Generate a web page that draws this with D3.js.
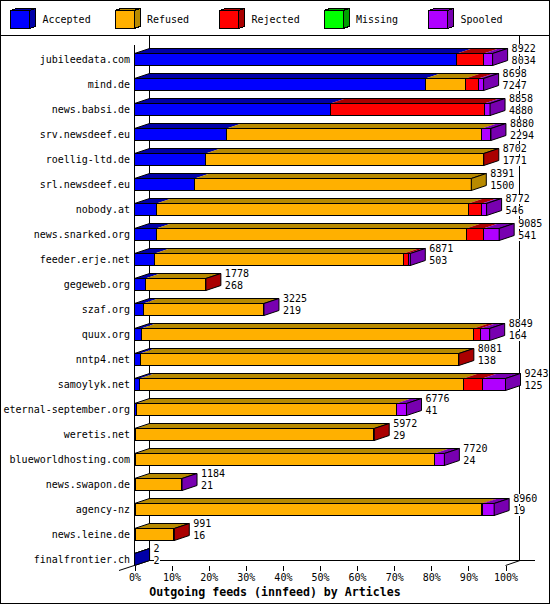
<!DOCTYPE html>
<html>
<head>
<meta charset="utf-8">
<style>
  body { margin: 0; background: #fff; }
  text { font-family: "DejaVu Sans Mono", monospace; font-size: 10px; fill: #000; }
</style>
</head>
<body>
<script src="https://d3js.org/d3.v7.min.js"></script>
<script>
// feeds, top to bottom
var servers = ['jubileedata.com', 'mind.de', 'news.babsi.de', 'srv.newsdeef.eu', 'roellig-ltd.de',
  'srl.newsdeef.eu', 'nobody.at', 'news.snarked.org', 'feeder.erje.net', 'gegeweb.org', 'szaf.org',
  'quux.org', 'nntp4.net', 'samoylyk.net', 'eternal-september.org', 'weretis.net',
  'blueworldhosting.com', 'news.swapon.de', 'agency-nz', 'news.leine.de', 'finalfrontier.ch'];

// articles offered / accepted (the two numbers at the end of each bar)
var offered  = [8922, 8698, 8858, 8880, 8702, 8391, 8772, 9085, 6871, 1778, 3225, 8849, 8081, 9243, 6776, 5972, 7720, 1184, 8960, 991, 2];
var accepted = [8034, 7247, 4880, 2294, 1771, 1500, 546, 541, 503, 268, 219, 164, 138, 125, 41, 29, 24, 21, 19, 16, 2];
// the rest
var refused  = [0, 1000, 0, 6360, 6916, 6891, 7772, 7720, 6200, 1502, 2996, 8284, 7928, 8068, 6476, 5923, 7446, 1155, 8617, 965, 0];
var rejected = [665, 325, 3835, 0, 15, 0, 338, 430, 120, 8, 0, 166, 15, 476, 0, 20, 0, 0, 40, 10, 0];
var missing  = [0, 0, 0, 0, 0, 0, 0, 0, 0, 0, 0, 0, 0, 0, 0, 0, 0, 0, 0, 0, 0];
var spooled  = [223, 126, 143, 226, 0, 0, 116, 394, 48, 0, 10, 235, 0, 574, 259, 0, 250, 8, 284, 0, 0];

var seriesNames = ['Accepted', 'Refused', 'Rejected', 'Missing', 'Spooled'];
var seriesData = [accepted, refused, rejected, missing, spooled];
var lightCol = ['#0000ff', '#ffb000', '#ff0000', '#00ff00', '#b000ff'];
var darkCol  = ['#0000a8', '#b88a00', '#aa0000', '#00a000', '#7800b0'];

var tickPct = [0, 10, 20, 30, 40, 50, 60, 70, 80, 90, 100];

var width = 550, height = 605;
var dx = 15, dy = 5;   // depth of the 3d bars

var svg = d3.select('body').append('svg')
  .attr('width', width).attr('height', height)
  .style('shape-rendering', 'crispEdges');

svg.append('rect').attr('x', 0.5).attr('y', 0.5)
  .attr('width', width - 1).attr('height', height - 2)
  .attr('fill', '#fff').attr('stroke', '#000');
svg.append('line').attr('x1', 0).attr('x2', width).attr('y1', 35.5).attr('y2', 35.5).attr('stroke', '#000');

// legend
var leg = svg.append('g').selectAll('g').data(seriesNames).enter().append('g')
  .attr('transform', function(d, i) { return 'translate(' + (10.5 + i * 104.5) + ',10.5)'; });
leg.append('polygon')
  .attr('points', '0,0 6,-2 25,-2 25,16 19,18 19,0')
  .attr('fill', function(d, i) { return darkCol[i]; }).attr('stroke', '#000');
leg.append('rect').attr('width', 19).attr('height', 18)
  .attr('fill', function(d, i) { return lightCol[i]; }).attr('stroke', '#000');
leg.append('line').attr('x1', 19).attr('y1', 0).attr('x2', 25).attr('y2', -2).attr('stroke', '#000');
leg.append('text').attr('x', 32).attr('y', 12.5).text(function(d) { return d; });

// scales
var maxOff = d3.max(offered);
var x = d3.scaleLinear().domain([0, 100]).range([134.5, 505.5]);
var y = d3.scaleBand().domain(servers).range([53.5, 565.5]).paddingInner(0.52).paddingOuter(0);
var bw = 12;
function px(v) { return x(v / maxOff * 100); }

// back wall and floor
var back = svg.append('g').attr('stroke', '#000').attr('fill', 'none');
back.append('line').attr('x1', 149.5).attr('x2', 149.5).attr('y1', 36).attr('y2', 560.5);
back.append('line').attr('x1', 519.5).attr('x2', 519.5).attr('y1', 36).attr('y2', 560.5);
back.append('line').attr('x1', 149.5).attr('x2', 535).attr('y1', 560.5).attr('y2', 560.5);
back.append('line').attr('x1', 134.5).attr('x2', 134.5).attr('y1', 45).attr('y2', 565.5);
back.append('line').attr('x1', 119).attr('y1', 570.5).attr('x2', 149.5).attr('y2', 560.5)
  .style('shape-rendering', 'auto');
back.append('line').attr('x1', 505.5).attr('y1', 565.5).attr('x2', 520).attr('y2', 560.5)
  .style('shape-rendering', 'auto');

// bars
var bars = svg.append('g');
servers.forEach(function(s, i) {
  var top = y(s), bot = top + bw;
  var g = bars.append('g');
  var c = 0, last = 0;
  seriesData.forEach(function(arr, k) {
    var v = arr[i];
    if (v <= 0) return;
    var x1 = px(c), x2 = px(c + v);
    g.append('polygon')
      .attr('points', [[x1, top], [x1 + dx, top - dy], [x2 + dx, top - dy], [x2, top]].join(' '))
      .attr('fill', darkCol[k]).style('shape-rendering', 'auto');
    g.append('rect').attr('x', x1).attr('y', top).attr('width', x2 - x1).attr('height', bw)
      .attr('fill', lightCol[k]).attr('stroke', '#000');
    c += v;
    last = k;
  });
  var x0 = px(0), xe = px(c);
  g.append('polygon')
    .attr('points', [[x0, top], [x0 + dx, top - dy], [xe + dx, top - dy], [xe, top]].join(' '))
    .attr('fill', 'none').attr('stroke', '#000').style('shape-rendering', 'auto');
  g.append('polygon')
    .attr('points', [[xe, top], [xe + dx, top - dy], [xe + dx, bot - dy], [xe, bot]].join(' '))
    .attr('fill', darkCol[last]).attr('stroke', '#000').style('shape-rendering', 'auto');

  // value labels (offered over accepted)
  [[offered[i], top - 1.5], [accepted[i], top + 10]].forEach(function(p) {
    var t = String(p[0]);
    g.append('rect').attr('x', xe + dx + 4).attr('y', p[1] - 8)
      .attr('width', t.length * 6.02).attr('height', 10).attr('fill', '#fff');
    g.append('text').attr('x', xe + dx + 4).attr('y', p[1]).text(t);
  });
});

// category labels
svg.append('g').selectAll('text').data(servers).enter().append('text')
  .attr('x', 130).attr('y', function(d) { return y(d) + bw / 2 + 3.8; })
  .attr('text-anchor', 'end').text(function(d) { return d; });

// x axis
var axis = svg.append('g').attr('transform', 'translate(0,565.5)')
  .call(d3.axisBottom(x).tickValues(tickPct).tickSize(5).tickFormat(function(d) { return d + '%'; }));
axis.select('.domain').remove();
axis.selectAll('text').attr('font-family', null).attr('font-size', null);

svg.append('text').attr('x', 275).attr('y', 595.5).attr('text-anchor', 'middle')
  .style('font-weight', 'bold').style('font-size', '11.6px')
  .text('Outgoing feeds (innfeed) by Articles');
</script>
</body>
</html>
